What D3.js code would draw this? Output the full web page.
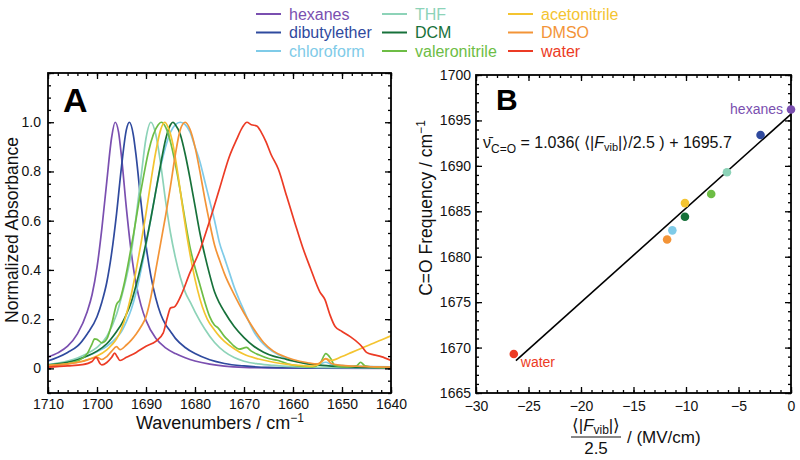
<!DOCTYPE html>
<html><head><meta charset="utf-8">
<script src="https://cdn.jsdelivr.net/npm/d3@7"></script>
<style>
body{margin:0;background:#fff;}
text{font-family:"Liberation Sans",Arial,Helvetica,sans-serif;}
</style></head>
<body>
<svg id="chart" width="800" height="460"></svg>
<script>
// ---------- DATA ----------
const solvents = ["hexanes","dibutylether","chloroform","THF","DCM","valeronitrile","acetonitrile","DMSO","water"];
const colors = {hexanes:"#7a4fb0",dibutylether:"#2f4a9e",chloroform:"#7fcbe8",THF:"#8dd3b8",DCM:"#17713a",valeronitrile:"#6dbd45",acetonitrile:"#f4c430",DMSO:"#f39437",water:"#ec3b25"};

// Panel A spectra: [wavenumber (cm-1), normalized absorbance]
const hexanes = [[1710,0.046],[1708,0.063],[1706,0.09],[1704,0.14],[1702,0.23],[1701,0.3],[1700,0.41],[1699,0.57],[1698,0.76],[1697,0.94],[1696.3,1.0],[1695.6,0.96],[1695,0.86],[1694,0.65],[1693,0.47],[1692,0.34],[1691,0.255],[1690,0.195],[1688,0.122],[1686,0.083],[1684,0.06],[1682,0.043],[1680,0.03],[1677,0.017],[1674,0.009],[1670,0.004],[1664,0.002],[1655,0.001],[1640,0]];
const dibutylether = [[1710,0.03],[1708,0.045],[1706,0.065],[1704,0.09],[1702,0.14],[1700,0.21],[1699,0.27],[1698,0.35],[1697,0.47],[1696,0.63],[1695,0.82],[1694,0.97],[1693.4,1.0],[1692.6,0.95],[1692,0.86],[1691,0.67],[1690,0.5],[1689,0.375],[1688,0.285],[1687,0.22],[1686,0.178],[1685,0.15],[1684,0.122],[1682,0.085],[1680,0.06],[1677,0.035],[1674,0.02],[1670,0.01],[1665,0.004],[1655,0.002],[1640,0.001]];
const chloroform = [[1710,0.014],[1708,0.019],[1706,0.026],[1704,0.036],[1702,0.05],[1700,0.068],[1698,0.09],[1696,0.125],[1695,0.15],[1694,0.19],[1693,0.24],[1692,0.31],[1691,0.4],[1690,0.5],[1689,0.61],[1688,0.72],[1687,0.82],[1686,0.9],[1685,0.96],[1684,0.99],[1683,1.0],[1682,0.99],[1681,0.96],[1680,0.9],[1679,0.84],[1678,0.76],[1677,0.68],[1676,0.6],[1675,0.51],[1674,0.45],[1673,0.39],[1672,0.33],[1671,0.28],[1670,0.235],[1669,0.19],[1668,0.15],[1667,0.12],[1666,0.098],[1665,0.08],[1663,0.055],[1660,0.032],[1657,0.02],[1655,0.016],[1653.3,0.025],[1652,0.014],[1648,0.009],[1644,0.007],[1640,0.006]];
const THF = [[1710,0.016],[1708,0.022],[1706,0.03],[1704,0.042],[1702,0.06],[1700,0.085],[1698,0.13],[1696,0.22],[1695,0.29],[1694,0.37],[1693,0.47],[1692,0.62],[1691,0.78],[1690,0.935],[1689,1.0],[1688,0.95],[1687,0.83],[1686,0.68],[1685,0.55],[1684,0.45],[1683,0.37],[1682,0.31],[1681,0.27],[1680,0.23],[1678,0.16],[1676,0.105],[1674,0.068],[1672,0.044],[1670,0.029],[1667,0.018],[1664,0.012],[1660,0.007],[1655,0.004],[1640,0.002]];
const DCM = [[1710,0.013],[1708,0.018],[1706,0.025],[1704,0.035],[1702,0.05],[1700,0.07],[1698,0.1],[1696,0.15],[1695,0.18],[1694,0.22],[1693,0.27],[1692,0.34],[1691,0.42],[1690,0.51],[1689,0.61],[1688,0.72],[1687,0.83],[1686,0.93],[1685,0.99],[1684.5,1.0],[1684,0.99],[1683,0.95],[1682,0.87],[1681,0.77],[1680,0.66],[1679,0.55],[1678,0.46],[1677,0.38],[1676,0.31],[1675,0.265],[1674,0.23],[1672,0.17],[1670,0.125],[1668,0.09],[1666,0.066],[1664,0.05],[1662,0.04],[1660,0.03],[1657,0.018],[1654,0.012],[1650,0.007],[1645,0.004],[1640,0.003]];
const valeronitrile = [[1710,0.012],[1708,0.015],[1706,0.02],[1704,0.03],[1702,0.06],[1701,0.1],[1700.5,0.12],[1700,0.118],[1699,0.104],[1698,0.12],[1697,0.18],[1696,0.26],[1695.3,0.28],[1694.5,0.34],[1693.5,0.44],[1692.5,0.55],[1691.5,0.67],[1690.5,0.78],[1689.5,0.88],[1688.5,0.95],[1687.5,0.99],[1686.9,1.0],[1686,0.98],[1685,0.92],[1684,0.83],[1683,0.72],[1682,0.6],[1681,0.49],[1680,0.41],[1679,0.34],[1678,0.27],[1677,0.21],[1676,0.175],[1675.3,0.165],[1674,0.13],[1673,0.11],[1672,0.09],[1671,0.078],[1669.5,0.085],[1668.5,0.07],[1667,0.055],[1665,0.04],[1663,0.032],[1661,0.018],[1659,0.01],[1656,0.006],[1654.5,0.02],[1653.3,0.06],[1652.3,0.04],[1651.5,0.012],[1649,0.006],[1647,0.01],[1646.2,0.025],[1645.3,0.01],[1643,0.004],[1640,0.003]];
const acetonitrile = [[1710,0.01],[1708,0.013],[1706,0.018],[1704,0.025],[1702,0.035],[1700,0.05],[1698,0.075],[1697,0.095],[1696,0.12],[1695,0.16],[1694,0.22],[1693,0.3],[1692,0.4],[1691,0.51],[1690,0.63],[1689,0.76],[1688,0.88],[1687,0.97],[1686.2,1.0],[1685.5,0.98],[1684.5,0.91],[1683.5,0.79],[1682.5,0.65],[1681.5,0.52],[1680.5,0.41],[1679.5,0.32],[1678.5,0.25],[1677.5,0.2],[1676,0.155],[1675,0.13],[1674,0.11],[1672,0.08],[1670,0.057],[1667,0.038],[1664,0.025],[1661,0.016],[1658,0.011],[1656,0.009],[1654.5,0.02],[1653.3,0.04],[1652.3,0.032],[1650,0.048],[1648,0.065],[1646,0.082],[1644,0.099],[1642,0.115],[1640,0.132]];
const DMSO = [[1710,0.012],[1706,0.018],[1703,0.028],[1701,0.04],[1700,0.045],[1699,0.036],[1698,0.048],[1697,0.07],[1696,0.088],[1695.3,0.076],[1694,0.095],[1693,0.115],[1692,0.14],[1691,0.17],[1690,0.21],[1689,0.29],[1688,0.4],[1687,0.51],[1686,0.62],[1685,0.74],[1684,0.87],[1683,0.97],[1682,1.0],[1681,0.97],[1680,0.9],[1679,0.8],[1678,0.69],[1677,0.59],[1676,0.5],[1675,0.44],[1674,0.385],[1672,0.3],[1670,0.225],[1668,0.16],[1666,0.105],[1664,0.07],[1662,0.05],[1660,0.036],[1657,0.023],[1655,0.018],[1653.3,0.04],[1652.2,0.02],[1650,0.012],[1646,0.008],[1640,0.005]];
const water = [[1710,0.005],[1706,0.01],[1703,0.015],[1701,0.028],[1700.2,0.046],[1699.4,0.02],[1699,0.014],[1698,0.024],[1697,0.045],[1696.4,0.062],[1695.8,0.045],[1695.3,0.032],[1694,0.045],[1692,0.065],[1690,0.09],[1688,0.11],[1686.5,0.143],[1685.6,0.21],[1685,0.245],[1684.2,0.25],[1683,0.29],[1681,0.39],[1679,0.48],[1677,0.6],[1675,0.73],[1673,0.86],[1671.5,0.93],[1670.3,0.98],[1669.4,1.0],[1668.5,0.99],[1667.4,0.985],[1666.5,0.96],[1665.5,0.92],[1664.5,0.87],[1663,0.81],[1661.3,0.7],[1659.6,0.59],[1658,0.49],[1656.5,0.41],[1654.5,0.31],[1653.5,0.28],[1652.5,0.22],[1651.4,0.17],[1650,0.15],[1648.4,0.13],[1646.5,0.1],[1645.8,0.085],[1645,0.065],[1643.5,0.055],[1642,0.048],[1640,0.032]];
const spectra = {hexanes,dibutylether,chloroform,THF,DCM,valeronitrile,acetonitrile,DMSO,water};

const aXTicks = [1710,1700,1690,1680,1670,1660,1650,1640];
const aYTicks = [0,0.2,0.4,0.6,0.8,1.0];
const aYTickLabels = ["0","0.2","0.4","0.6","0.8","1.0"];

// Panel B: field (<|Fvib|>/2.5, MV/cm) vs C=O frequency (cm-1)
const bSolvents = ["hexanes","dibutylether","THF","valeronitrile","acetonitrile","DCM","chloroform","DMSO","water"];
const bField = [0,-2.9,-6.1,-7.6,-10.1,-10.1,-11.3,-11.8,-26.4];
const bFreq = [1696.2,1693.4,1689.3,1686.9,1685.9,1684.4,1682.9,1681.9,1669.3];
const fitSlope = 1.036, fitIntercept = 1695.7;
const fitRange = [-26.2, 0];
const bXTicks = [-30,-25,-20,-15,-10,-5,0];
const bYTicks = [1665,1670,1675,1680,1685,1690,1695,1700];

// ---------- DRAW ----------
const svg = d3.select("#chart");
const FONT = '"Liberation Sans",Arial,Helvetica,sans-serif';

function frameAxes(g, x, y, opts){
  const {xMajor, xMinor, yMajor, yMinor, xFmt, yFmt, xPad, yPad} = opts;
  const [x0,x1] = x.range(), [y0,y1] = y.range();
  g.append("g").attr("transform",`translate(0,${y0})`).call(d3.axisBottom(x).tickValues(xMinor).tickSize(-3).tickFormat(""));
  g.append("g").attr("transform",`translate(0,${y1})`).call(d3.axisTop(x).tickValues(xMinor).tickSize(-3).tickFormat(""));
  g.append("g").attr("transform",`translate(${x0},0)`).call(d3.axisLeft(y).tickValues(yMinor).tickSize(-3).tickFormat(""));
  g.append("g").attr("transform",`translate(${x1},0)`).call(d3.axisRight(y).tickValues(yMinor).tickSize(-3).tickFormat(""));
  g.append("g").attr("class","xax").attr("transform",`translate(0,${y0})`).call(d3.axisBottom(x).tickValues(xMajor).tickSize(-6).tickPadding(xPad).tickFormat(xFmt));
  g.append("g").attr("transform",`translate(0,${y1})`).call(d3.axisTop(x).tickValues(xMajor).tickSize(-6).tickFormat(""));
  g.append("g").attr("class","yax").attr("transform",`translate(${x0},0)`).call(d3.axisLeft(y).tickValues(yMajor).tickSize(-6).tickPadding(yPad).tickFormat(yFmt));
  g.append("g").attr("transform",`translate(${x1},0)`).call(d3.axisRight(y).tickValues(yMajor).tickSize(-6).tickFormat(""));
  g.selectAll(".domain").remove();
  g.selectAll(".tick line").attr("stroke","#000").attr("stroke-width",1.3);
  g.selectAll(".tick text").attr("font-size",14).attr("font-family",FONT).attr("fill","#111");
  g.append("rect").attr("x",x0).attr("y",y1).attr("width",x1-x0).attr("height",y0-y1)
    .attr("fill","none").attr("stroke","#000").attr("stroke-width",1.8);
}

// ---- Panel A ----
const xA = d3.scaleLinear().domain([1710,1640]).range([48,391]);
const yA = d3.scaleLinear().domain([-0.1,1.2]).range([393,73]);
const gA = svg.append("g");
svg.append("clipPath").attr("id","clipA").append("rect")
  .attr("x",48).attr("y",73).attr("width",343).attr("height",320);
const lineA = d3.line().x(d=>xA(d[0])).y(d=>yA(d[1])).curve(d3.curveMonotoneX);
const gLines = gA.append("g").attr("clip-path","url(#clipA)");
solvents.forEach(s=>{
  gLines.append("path").datum(spectra[s]).attr("d",lineA)
    .attr("fill","none").attr("stroke",colors[s]).attr("stroke-width",1.7).attr("stroke-linejoin","round");
});
const rangeStep = (a,b,s)=>d3.range(Math.round((b-a)/s)+1).map(i=>+(a+i*s).toFixed(4));
frameAxes(gA, xA, yA, {
  xMajor:aXTicks, xMinor:rangeStep(1640,1710,2),
  yMajor:aYTicks.concat([1.2]), yMinor:rangeStep(-0.1,1.2,0.05),
  xFmt:d=>String(d), yFmt:(d,i)=> i<aYTickLabels.length ? aYTickLabels[i] : "",
  xPad:6, yPad:7
});
gA.append("text").attr("x",63).attr("y",112).attr("font-size",34).attr("font-weight","bold").attr("font-family",FONT).text("A");
const xtA = gA.append("text").attr("x",220).attr("y",429).attr("text-anchor","middle").attr("font-size",18).attr("font-family",FONT).attr("fill","#111");
xtA.append("tspan").text("Wavenumbers / cm");
xtA.append("tspan").attr("dy",-7).attr("font-size",12).text("−1");
gA.append("text").attr("transform","translate(18,230) rotate(-90)").attr("text-anchor","middle")
  .attr("font-size",17.5).attr("font-family",FONT).attr("fill","#111").text("Normalized Absorbance");

// ---- Panel B ----
const xB = d3.scaleLinear().domain([-30,0]).range([476,791]);
const yB = d3.scaleLinear().domain([1665,1700]).range([393,75]);
const gB = svg.append("g");
frameAxes(gB, xB, yB, {
  xMajor:bXTicks, xMinor:rangeStep(-30,0,1),
  yMajor:bYTicks, yMinor:rangeStep(1665,1700,1),
  xFmt:d=>d<0?"−"+Math.abs(d):String(d), yFmt:d=>String(d),
  xPad:8, yPad:5
});
gB.append("line")
  .attr("x1",xB(fitRange[0])).attr("y1",yB(fitSlope*fitRange[0]+fitIntercept))
  .attr("x2",xB(fitRange[1])).attr("y2",yB(fitSlope*fitRange[1]+fitIntercept))
  .attr("stroke","#000").attr("stroke-width",1.6);
gB.selectAll("circle").data(bSolvents).join("circle")
  .attr("cx",(d,i)=>xB(bField[i])).attr("cy",(d,i)=>yB(bFreq[i])).attr("r",4.3)
  .attr("fill",d=>colors[d]);
gB.append("text").attr("x",xB(bField[0])-8).attr("y",yB(bFreq[0])+4).attr("text-anchor","end")
  .attr("font-size",14).attr("font-family",FONT).attr("fill",colors.hexanes).text("hexanes");
gB.append("text").attr("x",xB(bField[8])+7).attr("y",yB(bFreq[8])+13)
  .attr("font-size",14).attr("font-family",FONT).attr("fill",colors.water).text("water");
gB.append("text").attr("x",496).attr("y",110).attr("font-size",30).attr("font-weight","bold").attr("font-family",FONT).text("B");
// equation
const eq = gB.append("text").attr("x",483).attr("y",148).attr("font-size",16).attr("font-family",FONT).attr("fill","#111");
eq.append("tspan").text("ν\u0304");
eq.append("tspan").attr("dy",5).attr("font-size",12).text("C=O");
eq.append("tspan").attr("dy",-5).text(" = 1.036( \u27E8|");
eq.append("tspan").attr("font-style","italic").text("F");
eq.append("tspan").attr("dy",3).attr("font-size",11).text("vib");
eq.append("tspan").attr("dy",-3).text("|\u27E9/2.5 ) + 1695.7");
// y title
const ytB = gB.append("text").attr("transform","translate(432,208) rotate(-90)").attr("text-anchor","middle")
  .attr("font-size",17.5).attr("font-family",FONT).attr("fill","#111");
ytB.append("tspan").text("C=O Frequency / cm");
ytB.append("tspan").attr("dy",-7).attr("font-size",12).text("−1");
// x title (fraction)
const num = gB.append("text").attr("x",596).attr("y",431).attr("text-anchor","middle").attr("font-size",17).attr("font-family",FONT).attr("fill","#111");
num.append("tspan").text("\u27E8|");
num.append("tspan").attr("font-style","italic").text("F");
num.append("tspan").attr("dy",3).attr("font-size",12).text("vib");
num.append("tspan").attr("dy",-3).text("|\u27E9");
gB.append("line").attr("x1",571).attr("x2",621).attr("y1",437).attr("y2",437).attr("stroke","#111").attr("stroke-width",1.2);
gB.append("text").attr("x",596).attr("y",454).attr("text-anchor","middle").attr("font-size",17).attr("font-family",FONT).attr("fill","#111").text("2.5");
gB.append("text").attr("x",627).attr("y",443).attr("font-size",17).attr("font-family",FONT).attr("fill","#111").text("/ (MV/cm)");

// ---- Legend ----
const legendCols = [[0,1,2],[3,4,5],[6,7,8]];
const colX = [256,382,508];
const rowY = [14,32.5,51];
const lg = svg.append("g");
legendCols.forEach((col,ci)=>{
  col.forEach((si,ri)=>{
    const s = solvents[si];
    lg.append("line").attr("x1",colX[ci]).attr("x2",colX[ci]+25).attr("y1",rowY[ri]).attr("y2",rowY[ri])
      .attr("stroke",colors[s]).attr("stroke-width",2);
    lg.append("text").attr("x",colX[ci]+33).attr("y",rowY[ri]+5.5).attr("font-size",16).attr("font-family",FONT)
      .attr("fill",colors[s]).text(s);
  });
});
</script>
</body></html>
